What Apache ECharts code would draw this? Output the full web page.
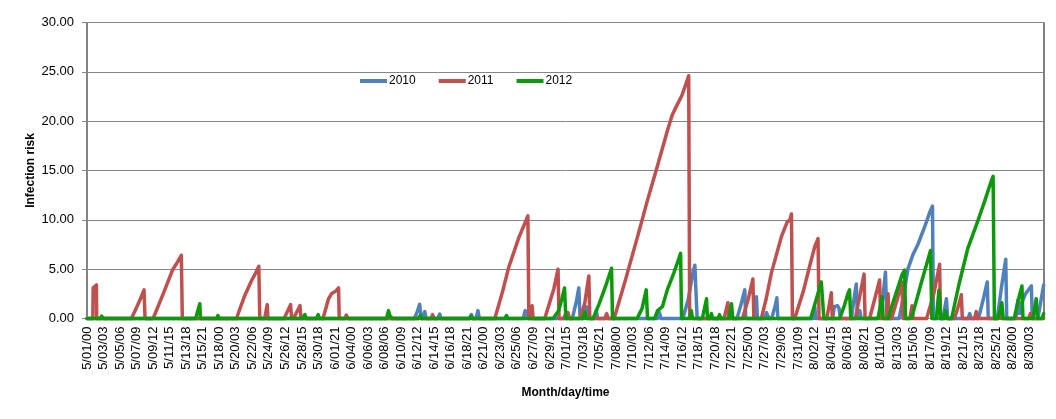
<!DOCTYPE html>
<html>
<head>
<meta charset="utf-8">
<script src="https://cdn.jsdelivr.net/npm/echarts@6/dist/echarts.min.js"></script>
<style>
html,body{margin:0;padding:0;background:#fff;}
#chart{width:1056px;height:419px;}
</style>
</head>
<body>
<div id="chart"></div>
<script>
// Tick labels (one every 51 hours, starting 5/01/00)
const tickLabels = ['5/01/00','5/03/03','5/05/06','5/07/09','5/09/12','5/11/15','5/13/18','5/15/21','5/18/00','5/20/03','5/22/06','5/24/09','5/26/12','5/28/15','5/30/18','6/01/21','6/04/00','6/06/03','6/08/06','6/10/09','6/12/12','6/14/15','6/16/18','6/18/21','6/21/00','6/23/03','6/25/06','6/27/09','6/29/12','7/01/15','7/03/18','7/05/21','7/08/00','7/10/03','7/12/06','7/14/09','7/16/12','7/18/15','7/20/18','7/22/21','7/25/00','7/27/03','7/29/06','7/31/09','8/02/12','8/04/15','8/06/18','8/08/21','8/11/00','8/13/03','8/15/06','8/17/09','8/19/12','8/21/15','8/23/18','8/25/21','8/28/00','8/30/03'];
const hoursTotal = 2952;
const tickStep = 51;
const seriesNames = ['2010','2011','2012'];

// [hour index from 5/01/00, infection risk]
const series2010 = [[0,0],
[1010,0],[1020,0.8],[1026,1.45],[1030,0.3],[1034,0],
[1038,0],[1042,0.7],[1046,0],
[1082,0],[1088,0.45],[1092,0],
[1180,0],[1186,0.4],[1190,0],
[1200,0],[1206,0.8],[1210,0],
[1345,0],[1352,0.8],[1358,0.6],[1361,0],
[1470,0],[1474,0.3],[1477,0],
[1497,0],[1510,1.8],[1517,3.1],[1521,0],
[1535,0],[1540,1.2],[1544,0],
[1566,0],[1571,0.8],[1575,0],
[1760,0],[1766,0.6],[1770,0],
[1838,0],[1855,2.0],[1870,4.8],[1875,5.4],[1879,5.3],[1882,0],
[2005,0],[2018,1.5],[2029,2.9],[2032,0],
[2058,0],[2065,2.2],[2068,0],
[2090,0],[2096,0.6],[2100,0.5],[2104,0],
[2112,0],[2122,1.2],[2128,2.1],[2131,0],
[2240,0],[2245,1.2],[2248,0],
[2300,0],[2305,1.2],[2310,1.0],[2315,1.3],[2320,1.0],[2324,0],
[2358,0],[2366,2.0],[2373,3.5],[2377,0],
[2380,0],[2384,0.8],[2388,0],
[2447,0],[2456,2.5],[2463,4.7],[2467,0],
[2505,0],[2520,2.5],[2532,5.0],[2548,6.5],[2563,7.5],[2584,9.3],[2600,10.8],[2608,11.4],[2611,0],
[2640,0],[2651,2.0],[2655,0],
[2718,0],[2723,0.5],[2727,0],
[2750,0],[2765,2.0],[2777,3.7],[2780,0],
[2808,0],[2820,3.0],[2834,6.0],[2837,0],
[2865,0],[2872,1.9],[2876,0.5],[2882,1.5],[2895,2.5],[2913,3.3],[2916,0],
[2933,0],[2951,3.4]];

const series2011 = [[0,0],
[18,0],[19,3.1],[22,3.2],[25,3.3],[29,3.4],[30,0],
[137,0],[150,0.9],[165,2.0],[176,2.9],[178,2.9],[179,0],
[204,0],[235,2.5],[265,5.0],[277,5.6],[291,6.4],[294,0],
[461,0],[485,2.2],[507,3.8],[520,4.6],[530,5.3],[533,0],
[548,0],[556,1.4],[558,0],
[608,0],[628,1.4],[631,0.1],[640,0.2],[657,1.3],[660,0],
[728,0],[745,2.0],[754,2.5],[768,2.8],[776,3.1],[778,0],
[795,0],[800,0.35],[805,0],
[1062,0],[1066,0.4],[1070,0],
[1150,0],[1155,0.2],[1158,0],
[1258,0],[1280,2.5],[1301,5.2],[1332,8.2],[1350,9.6],[1360,10.4],[1363,0],
[1366,0],[1370,1.0],[1373,1.3],[1376,0],
[1390,0],[1393,0.2],[1396,0],
[1412,0],[1440,3.0],[1453,5.0],[1456,0],
[1478,0],[1484,0.6],[1488,0],
[1520,0],[1535,1.5],[1548,4.3],[1551,0],
[1597,0],[1603,0.5],[1608,0],
[1626,0],[1660,3.8],[1700,8.5],[1729,12.0],[1760,15.5],[1790,19.0],[1805,20.6],[1815,21.3],[1835,22.6],[1850,24.0],[1856,24.6],[1859,0],
[1965,0],[1977,1.6],[1980,0],
[2022,0],[2040,2.0],[2054,4.0],[2057,0],
[2080,0],[2095,2.0],[2111,4.6],[2142,8.3],[2160,9.8],[2168,10.0],[2173,10.6],[2176,0],
[2183,0],[2210,2.8],[2229,5.3],[2245,7.3],[2255,8.1],[2258,0],
[2282,0],[2296,2.6],[2299,0],
[2370,0],[2385,2.5],[2397,4.5],[2400,0],
[2414,0],[2430,2.0],[2445,3.9],[2448,0],
[2466,0],[2471,2.5],[2474,0],
[2482,0],[2500,2.0],[2514,3.7],[2517,0],
[2538,0],[2545,1.3],[2548,0],
[2590,0],[2612,2.5],[2630,5.5],[2633,0],
[2676,0],[2690,1.5],[2697,2.4],[2700,0],
[2738,0],[2743,0.7],[2746,0],
[2812,0],[2818,1.0],[2821,0],
[2905,0],[2910,0.5],[2913,0],
[2951,0]];

const series2012 = [[0,0],
[42,0],[45,0.25],[48,0.2],[51,0],
[335,0],[348,1.5],[350,0],
[400,0],[404,0.3],[407,0],
[665,0],[672,0.4],[676,0],
[708,0],[713,0.4],[717,0],
[758,0],[762,0.15],[765,0],
[924,0],[930,0.8],[934,0.3],[938,0.5],[942,0],
[1022,0],[1028,0.3],[1032,0],
[1180,0],[1184,0.25],[1188,0],
[1290,0],[1294,0.3],[1298,0],
[1380,0],[1384,0.2],[1388,0],
[1438,0],[1455,0.8],[1465,2.0],[1473,3.1],[1477,0],
[1530,0],[1536,0.7],[1540,0],
[1561,0],[1580,1.5],[1600,3.3],[1618,5.1],[1621,0],
[1697,0],[1712,1.0],[1725,2.9],[1729,0],
[1751,0],[1760,0.8],[1775,1.2],[1790,2.9],[1810,4.6],[1825,6.0],[1831,6.6],[1834,0],
[1860,0],[1864,0.8],[1868,0],
[1898,0],[1911,2.0],[1914,0],
[1922,0],[1926,0.5],[1930,0],
[1947,0],[1951,0.4],[1955,0],
[1980,0],[1988,1.5],[1992,0],
[2232,0],[2250,2.0],[2265,3.7],[2270,3.9],[2273,0],
[2322,0],[2335,1.2],[2348,2.6],[2352,2.9],[2356,0],
[2440,0],[2452,2.2],[2456,0],
[2472,0],[2485,1.5],[2500,3.0],[2515,4.5],[2522,4.9],[2525,0],
[2543,0],[2560,2.0],[2575,3.8],[2590,5.5],[2602,6.9],[2606,0],
[2620,0],[2628,2.9],[2633,0],
[2643,0],[2648,0.8],[2652,0],
[2667,0],[2690,3.5],[2717,7.1],[2748,9.9],[2770,12.0],[2790,14.0],[2795,14.4],[2799,0],
[2810,0],[2822,1.6],[2826,0],
[2860,0],[2872,1.8],[2884,3.3],[2887,0],
[2918,0],[2928,2.0],[2932,0],
[2946,0],[2951,0.5]];

const colors = ['#4f81bd','#c0504d','#0c9a0c'];
const font = 'Liberation Sans, Arial, sans-serif';

const chart = echarts.init(document.getElementById('chart'), null, {renderer:'canvas'});
const mk = (name, data, color) => ({
  name, type:'line', data, showSymbol:false, symbol:'none', animation:false, clip:false,
  lineStyle:{color, width:3.5, cap:'round', join:'round'}, itemStyle:{color}
});
chart.setOption({
  animation:false,
  backgroundColor:'#fff',
  grid:{left:87, right:12, top:22.5, bottom:100.5, show:true, borderColor:'#000', borderWidth:1},
  legend:{
    left:360, top:75, padding:0, itemWidth:27, itemHeight:4, itemGap:23, icon:'rect',
    textStyle:{fontFamily:font, fontSize:12, color:'#000', padding:[0,0,0,-3]},
    data:seriesNames
  },
  xAxis:{
    type:'value', min:0, max:hoursTotal, interval:tickStep,
    name:'Month/day/time', nameLocation:'middle', nameGap:68, nameMoveOverlap:false,
    nameTextStyle:{fontFamily:font, fontSize:12, fontWeight:'bold', color:'#000'},
    axisLine:{show:true, lineStyle:{color:'#868686'}},
    axisTick:{show:false},
    splitLine:{show:false},
    axisLabel:{rotate:90, margin:8, showMaxLabel:false, fontFamily:font, fontSize:13, color:'#000',
      formatter:(v)=>{const i=Math.round(v/tickStep); return tickLabels[i]||'';}}
  },
  yAxis:{
    type:'value', min:0, max:30, interval:5,
    name:'Infection risk', nameLocation:'middle', nameGap:50, nameRotate:90, nameMoveOverlap:false,
    nameTextStyle:{fontFamily:font, fontSize:12, fontWeight:'bold', color:'#000'},
    axisLine:{show:true, lineStyle:{color:'#868686'}},
    axisTick:{show:true, length:5, lineStyle:{color:'#868686'}},
    splitLine:{show:true, lineStyle:{color:'#868686', width:1}},
    axisLabel:{margin:13, fontFamily:font, fontSize:13, color:'#000', formatter:(v)=>v.toFixed(2)}
  },
  series:[
    mk(seriesNames[0], series2010, colors[0]),
    mk(seriesNames[1], series2011, colors[1]),
    mk(seriesNames[2], series2012, colors[2])
  ]
});
</script>
</body>
</html>
